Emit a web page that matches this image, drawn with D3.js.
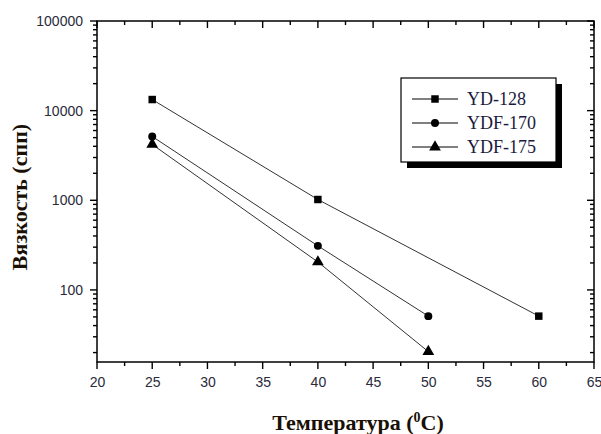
<!DOCTYPE html>
<html>
<head>
<meta charset="utf-8">
<script src="https://cdn.jsdelivr.net/npm/d3@7/dist/d3.min.js"></script>
<style>
  body { margin: 0; background: #fff; }
  svg { display: block; }
</style>
</head>
<body>
<div id="chart"></div>
<script>
// viscosity vs temperature, log y
var seriesNames = ["YD-128", "YDF-170", "YDF-175"];
var seriesSymbols = ["square", "circle", "triangle"];
var tempYD128 = [25, 40, 60];
var viscYD128 = [13300, 1020, 51];
var tempYDF170 = [25, 40, 50];
var viscYDF170 = [5150, 310, 51];
var tempYDF175 = [25, 40, 50];
var viscYDF175 = [4200, 205, 20.5];
var xTicks = [20, 25, 30, 35, 40, 45, 50, 55, 60, 65];
var yTicks = [100, 1000, 10000, 100000];

var W = 601, H = 434;
var margin = { top: 21, right: 7, bottom: 72, left: 97 };
var width = W - margin.left - margin.right;
var height = H - margin.top - margin.bottom;

var svg = d3.select("#chart").append("svg")
    .attr("width", W).attr("height", H);
var g = svg.append("g")
    .attr("transform", "translate(" + margin.left + "," + margin.top + ")");

var x = d3.scaleLinear().domain([20, 65]).range([0, width]);
var y = d3.scaleLog().domain([15.7, 100000]).range([height, 0]);

// minor ticks
var xMinor = d3.range(22.5, 65, 5);
var yMinor = [];
[10, 100, 1000, 10000].forEach(function (d) {
    for (var k = 2; k <= 9; k++) {
        if (d * k >= 15.7) yMinor.push(d * k);
    }
});

var tickFont = "'Liberation Sans', Arial, sans-serif";

// frame
g.append("rect")
    .attr("x", 0).attr("y", 0).attr("width", width).attr("height", height)
    .attr("fill", "none").attr("stroke", "#000").attr("stroke-width", 1.5);

// tick marks drawn as plain lines
function xTickLines(vals, len, yBase, dir) {
    g.append("g").selectAll("line").data(vals).enter().append("line")
        .attr("x1", function (d) { return x(d); })
        .attr("x2", function (d) { return x(d); })
        .attr("y1", yBase)
        .attr("y2", yBase + dir * len)
        .attr("stroke", "#000").attr("stroke-width", 1.4);
}
function yTickLines(vals, len, xBase, dir) {
    g.append("g").selectAll("line").data(vals).enter().append("line")
        .attr("y1", function (d) { return y(d); })
        .attr("y2", function (d) { return y(d); })
        .attr("x1", xBase)
        .attr("x2", xBase + dir * len)
        .attr("stroke", "#000").attr("stroke-width", 1.4);
}
xTickLines(xTicks, 7, height, 1);
xTickLines(xMinor, 4, height, 1);
xTickLines(xTicks, 7, 0, 1);
xTickLines(xMinor, 4, 0, 1);
yTickLines(yTicks, 7, 0, -1);
yTickLines(yMinor, 4, 0, -1);
yTickLines(yTicks, 7, width, -1);
yTickLines(yMinor, 4, width, -1);

// tick labels via axes (no tick lines)
function styleLabels(sel) {
    sel.select(".domain").remove();
    sel.selectAll(".tick line").remove();
    sel.selectAll("text")
        .attr("font-family", tickFont)
        .attr("font-size", "14px")
        .attr("fill", "#2a2a3a");
}
g.append("g").attr("transform", "translate(0," + height + ")")
    .call(d3.axisBottom(x).tickValues(xTicks).tickSize(0).tickPadding(15))
    .call(styleLabels);
g.append("g")
    .call(d3.axisLeft(y).tickValues(yTicks).tickSize(0).tickPadding(14)
        .tickFormat(d3.format("d")))
    .call(styleLabels);

// series
var series = [
    { name: seriesNames[0], sym: seriesSymbols[0], t: tempYD128, v: viscYD128 },
    { name: seriesNames[1], sym: seriesSymbols[1], t: tempYDF170, v: viscYDF170 },
    { name: seriesNames[2], sym: seriesSymbols[2], t: tempYDF175, v: viscYDF175 }
];
var symType = { square: d3.symbolSquare, circle: d3.symbolCircle, triangle: d3.symbolTriangle };
var symSize = { square: 56, circle: 50, triangle: 60 };

var line = d3.line()
    .x(function (d) { return x(d[0]); })
    .y(function (d) { return y(d[1]); });

series.forEach(function (s) {
    var pts = s.t.map(function (t, i) { return [t, s.v[i]]; });
    g.append("path")
        .datum(pts)
        .attr("d", line)
        .attr("fill", "none")
        .attr("stroke", "#333")
        .attr("stroke-width", 1);
    g.selectAll(null).data(pts).enter().append("path")
        .attr("transform", function (d) { return "translate(" + x(d[0]) + "," + y(d[1]) + ")"; })
        .attr("d", d3.symbol().type(symType[s.sym]).size(symSize[s.sym]))
        .attr("fill", "#000");
});

// legend
var lg = svg.append("g").attr("transform", "translate(401,78)");
lg.append("rect").attr("x", 6).attr("y", 6).attr("width", 155).attr("height", 84).attr("fill", "#000");
lg.append("rect").attr("x", 0).attr("y", 0).attr("width", 155).attr("height", 84)
    .attr("fill", "#fff").attr("stroke", "#000").attr("stroke-width", 1.2);
series.forEach(function (s, i) {
    var yy = 21 + i * 24;
    lg.append("line").attr("x1", 11).attr("x2", 57).attr("y1", yy).attr("y2", yy)
        .attr("stroke", "#000").attr("stroke-width", 1);
    lg.append("path")
        .attr("transform", "translate(34," + yy + ")")
        .attr("d", d3.symbol().type(symType[s.sym]).size(symSize[s.sym]))
        .attr("fill", "#000");
    lg.append("text")
        .attr("x", 66).attr("y", yy + 6)
        .attr("font-family", "'Liberation Serif', 'Times New Roman', serif")
        .attr("font-size", "18px")
        .attr("fill", "#1a1a40")
        .text(s.name);
});

// axis titles
var titleFont = "'Liberation Serif', 'Times New Roman', serif";
var xt = svg.append("text")
    .attr("x", 358).attr("y", 430)
    .attr("text-anchor", "middle")
    .attr("font-family", titleFont)
    .attr("font-weight", "bold")
    .attr("font-size", "22px")
    .attr("fill", "#1a1005");
xt.append("tspan").text("Температура (");
xt.append("tspan").attr("font-size", "14px").attr("dy", -8).text("0");
xt.append("tspan").attr("dy", 8).text("C)");

svg.append("text")
    .attr("transform", "translate(27,197) rotate(-90)")
    .attr("text-anchor", "middle")
    .attr("font-family", titleFont)
    .attr("font-weight", "bold")
    .attr("font-size", "22px")
    .attr("fill", "#1a1005")
    .text("Вязкость (спп)");
</script>
</body>
</html>
